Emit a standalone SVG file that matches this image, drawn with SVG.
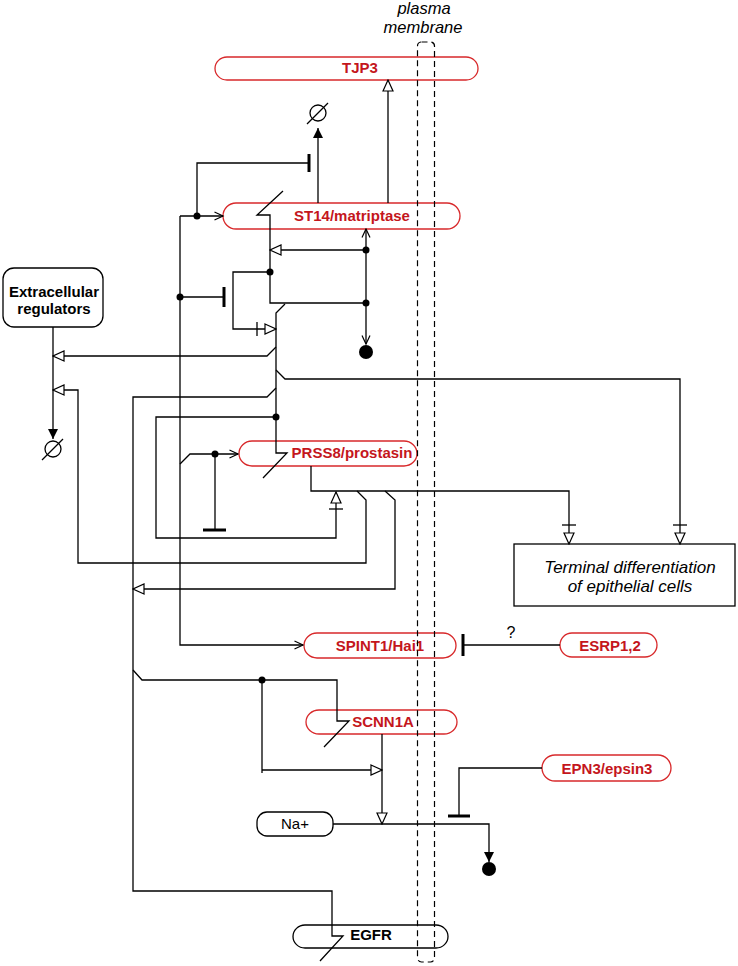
<svg xmlns="http://www.w3.org/2000/svg" width="738" height="966" viewBox="0 0 738 966">
<style>
.ln{fill:none;stroke:#000;stroke-width:1.3}
.bar{fill:none;stroke:#000;stroke-width:3}
.dot{fill:#000}
.pbox{fill:none;stroke:#d8292b;stroke-width:1.3}
.bbox{fill:none;stroke:#000;stroke-width:1.3}
.pt{font-family:"Liberation Sans",Arial,sans-serif;font-weight:bold;font-size:15px;fill:#c4161c;text-anchor:middle}
.bt{font-family:"Liberation Sans",Arial,sans-serif;font-weight:bold;font-size:15px;fill:#000;text-anchor:middle}
.it{font-family:"Liberation Sans",Arial,sans-serif;font-style:italic;font-size:17px;fill:#000;text-anchor:middle}
.nt{font-family:"Liberation Sans",Arial,sans-serif;font-size:15px;fill:#000;text-anchor:middle}
.deg{fill:#fff;stroke:#000;stroke-width:1.3}
</style>
<defs>
<marker id="open" markerUnits="userSpaceOnUse" viewBox="-1 -1 13 12" markerWidth="13" markerHeight="12" refX="11" refY="5" orient="auto">
<path d="M0,0 L11,5 L0,10 z" fill="#fff" stroke="#000" stroke-width="1.2"/>
</marker>
<marker id="vee" markerUnits="userSpaceOnUse" viewBox="-1 -1 11 10" markerWidth="11" markerHeight="10" refX="8.5" refY="4" orient="auto">
<path d="M0,0 L8.5,4 L0,8" fill="none" stroke="#000" stroke-width="1.2"/>
</marker>
<marker id="fill" markerUnits="userSpaceOnUse" viewBox="0 0 11 11" markerWidth="11" markerHeight="11" refX="10" refY="5" orient="auto">
<path d="M0,0 L10,5 L0,10 z" fill="#000"/>
</marker>
</defs>

<g id="TJP3">
<rect class="pbox" x="215" y="57" width="263" height="23" rx="12" ry="11.5"/>
<text class="pt" x="360" y="73">TJP3</text>
</g>
<g id="ST14">
<rect class="pbox" x="223" y="203" width="237" height="26" rx="13" ry="13"/>
<text class="pt" x="352" y="221">ST14/matriptase</text>
</g>
<g id="extracellular">
<rect class="bbox" x="3" y="268" width="100" height="59" rx="11" ry="11"/>
<text class="bt" x="54" y="297">Extracellular</text>
<text class="bt" x="54" y="314">regulators</text>
</g>
<g id="PRSS8">
<rect class="pbox" x="239" y="441" width="178" height="25" rx="13" ry="12.5"/>
<text class="pt" x="352" y="458">PRSS8/prostasin</text>
</g>
<g id="terminal">
<rect class="bbox" x="514" y="544" width="221" height="62"/>
<text class="it" x="630" y="573">Terminal differentiation</text>
<text class="it" x="630" y="592">of epithelial cells</text>
</g>
<g id="SPINT1">
<rect class="pbox" x="304" y="633" width="152" height="25" rx="13" ry="12.5"/>
<text class="pt" x="380" y="651">SPINT1/Hai1</text>
</g>
<g id="ESRP">
<rect class="pbox" x="560" y="633" width="97" height="24" rx="12" ry="12"/>
<text class="pt" x="610" y="651">ESRP1,2</text>
</g>
<g id="SCNN1A">
<rect class="pbox" x="306" y="710" width="151" height="24" rx="13" ry="12"/>
<text class="pt" x="383" y="727">SCNN1A</text>
</g>
<g id="EPN3">
<rect class="pbox" x="542" y="755" width="129" height="26" rx="13" ry="13"/>
<text class="pt" x="607" y="774" font-size="17.5">EPN3/epsin3</text>
</g>
<g id="Na">
<rect class="bbox" x="257" y="812" width="76" height="24" rx="10" ry="10"/>
<text class="nt" x="295" y="829">Na+</text>
</g>
<g id="EGFR">
<rect class="bbox" x="293" y="925" width="155" height="23" rx="12" ry="11.5"/>
<text class="bt" x="371" y="940" font-size="14">EGFR</text>
</g>

<g id="connectors">
<path class="ln" d="M318,203 L318,128" marker-end="url(#fill)"/>
<path class="ln" d="M388,203 L388,80" marker-end="url(#open)"/>
<path class="ln" d="M180,216 L223,216" marker-end="url(#vee)"/>
<path class="ln" d="M180,216 L180,645 L303,645" marker-end="url(#vee)"/>
<path class="ln" d="M197,216 L197,163 L309,163"/>
<line class="bar" x1="309" y1="154" x2="309" y2="172"/>
<path class="ln" d="M180,297 L224,297"/>
<line class="bar" x1="224" y1="287" x2="224" y2="307"/>
<path class="ln" d="M180,464 L190,454 L238,454" marker-end="url(#vee)"/>
<path class="ln" d="M215,454 L215,530"/>
<line class="bar" x1="203" y1="530" x2="226" y2="530"/>
<path class="ln" d="M283,191 L257,215 L270,215 L270,303 L366,303"/>
<path class="ln" d="M366,250 L366,229" marker-end="url(#vee)"/>
<path class="ln" d="M366,250 L366,344" marker-end="url(#vee)"/>
<path class="ln" d="M366,250 L270,250" marker-end="url(#open)"/>
<path class="ln" d="M270,272 L233,272 L233,329 L276,329" marker-end="url(#open)"/>
<line class="ln" x1="257" y1="322" x2="257" y2="336"/>
<path class="ln" d="M285,304 L276,313 L276,453 L287,453 L263,478"/>
<path class="ln" d="M276,347 L267,356 L53,356" marker-end="url(#open)"/>
<path class="ln" d="M276,370 L285,379 L680,379 L680,544" marker-end="url(#open)"/>
<line class="ln" x1="673" y1="525" x2="687" y2="525"/>
<path class="ln" d="M276,388 L267,397 L133,397 L133,891 L332,891 L332,936 L343,936 L320,961"/>
<path class="ln" d="M276,417 L156,417 L156,538 L336,538 L336,492" marker-end="url(#open)"/>
<line class="ln" x1="329" y1="509" x2="343" y2="509"/>
<path class="ln" d="M311,466 L311,491 L569,491 L569,544" marker-end="url(#open)"/>
<line class="ln" x1="562" y1="525" x2="576" y2="525"/>
<path class="ln" d="M357,491 L366,500 L366,563 L78,563 L78,390 L53,390" marker-end="url(#open)"/>
<path class="ln" d="M385,491 L395,500 L395,589 L133,589" marker-end="url(#open)"/>
<path class="ln" d="M53,327 L53,439" marker-end="url(#fill)"/>
<path class="ln" d="M133,670 L142,680 L337,680 L337,721 L349,721 L324,747"/>
<path class="ln" d="M262,680 L262,773"/>
<path class="ln" d="M262,770 L382,770" marker-end="url(#open)"/>
<path class="ln" d="M382,734 L382,824" marker-end="url(#open)"/>
<path class="ln" d="M333,824 L489,824 L489,862" marker-end="url(#fill)"/>
<path class="ln" d="M542,768 L459,768 L459,816"/>
<line class="bar" x1="448" y1="816" x2="470" y2="816"/>
<path class="ln" d="M560,645 L463,645"/>
<line class="bar" x1="463" y1="634" x2="463" y2="656"/>
<text x="511" y="638" font-family="Liberation Sans, Arial, sans-serif" font-size="16" text-anchor="middle">?</text>
<circle class="dot" cx="197" cy="216" r="3.5"/>
<circle class="dot" cx="180" cy="297" r="3.5"/>
<circle class="dot" cx="366" cy="250" r="3.5"/>
<circle class="dot" cx="270" cy="272" r="3.5"/>
<circle class="dot" cx="366" cy="303" r="3.5"/>
<circle class="dot" cx="276" cy="417" r="3.5"/>
<circle class="dot" cx="215" cy="454" r="3.5"/>
<circle class="dot" cx="262" cy="680" r="3.5"/>
</g>

<g id="sink_st14">
<circle class="deg" cx="318" cy="113" r="8"/>
<line class="ln" x1="307" y1="124" x2="328" y2="103"/>
</g>
<g id="sink_extra">
<circle class="deg" cx="53" cy="449" r="8"/>
<line class="ln" x1="42" y1="460" x2="63" y2="439"/>
</g>
<g id="sink_st14_out"><circle class="dot" cx="366" cy="352" r="7"/></g>
<g id="sink_na"><circle class="dot" cx="489" cy="869" r="7"/></g>

<g id="membrane">
<rect x="417.5" y="42" width="17" height="920" rx="4" ry="4" fill="none" stroke="#000" stroke-width="1.2" stroke-dasharray="6,4"/>
<text x="424" y="14" font-family="Liberation Sans, Arial, sans-serif" font-style="italic" font-size="16.5" text-anchor="middle">plasma</text>
<text x="423" y="33" font-family="Liberation Sans, Arial, sans-serif" font-style="italic" font-size="16.5" text-anchor="middle">membrane</text>
</g>
</svg>
